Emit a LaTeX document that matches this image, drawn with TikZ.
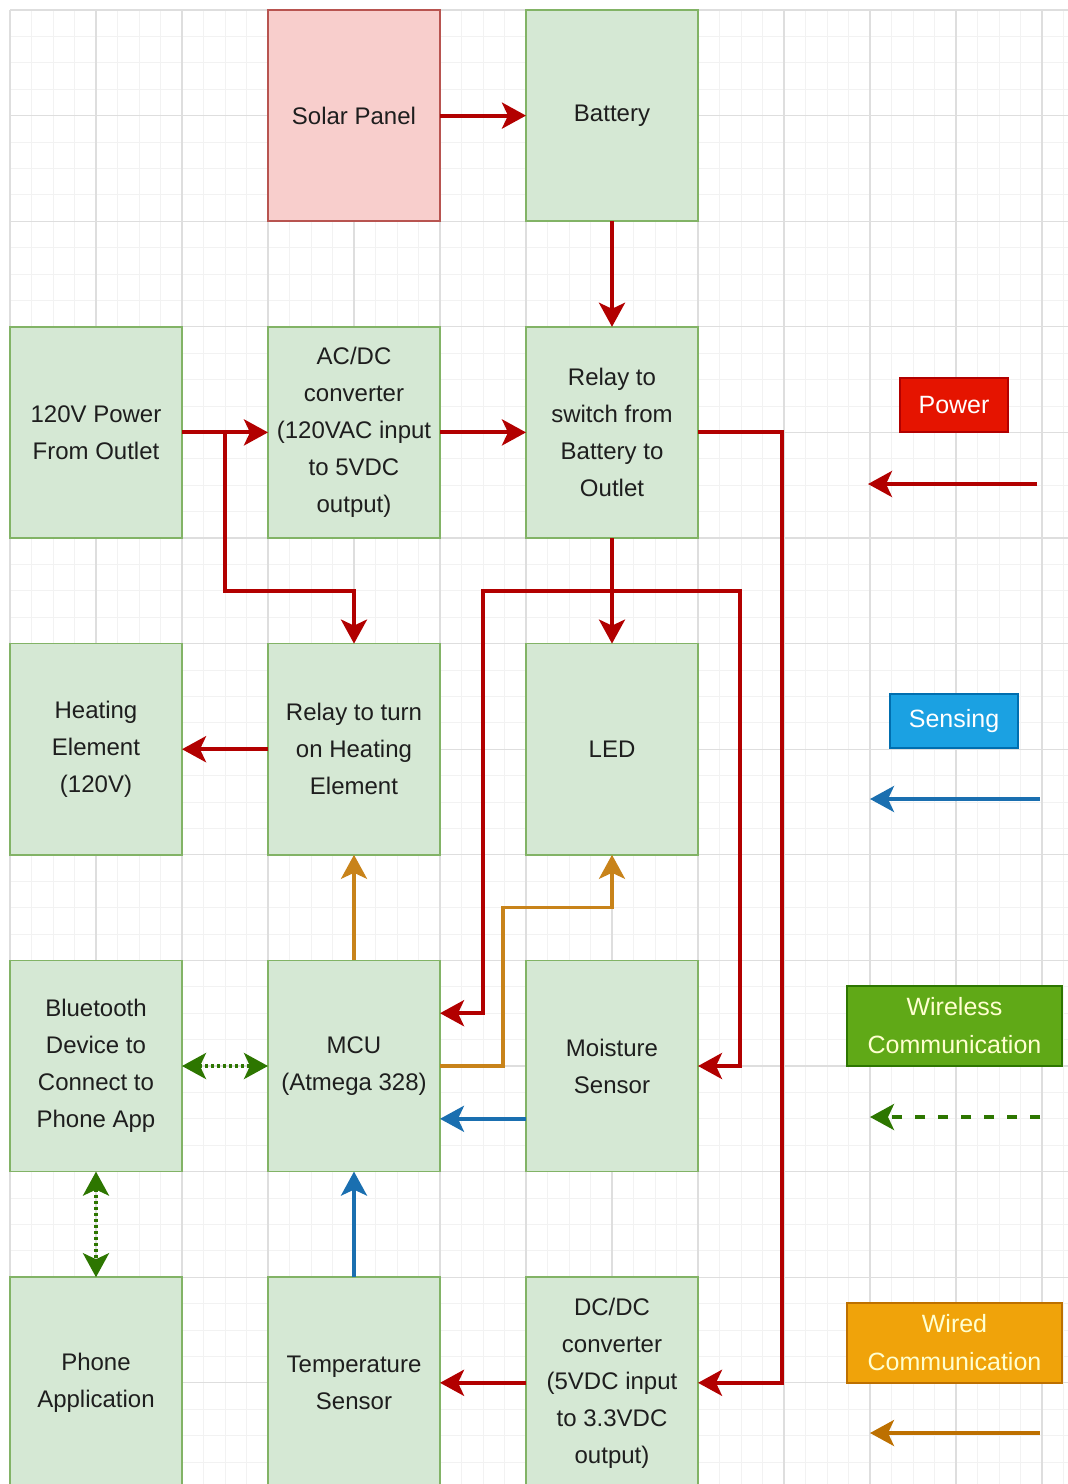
\documentclass[tikz,border=0pt]{standalone}
\usepackage{fontspec}
\setmainfont{Liberation Sans}
\usepackage{xcolor}
\usetikzlibrary{arrows.meta,positioning,calc}
\definecolor{blockfill}{HTML}{D5E8D4}
\definecolor{blockline}{HTML}{82B366}
\definecolor{solarfill}{HTML}{F8CECC}
\definecolor{solarline}{HTML}{B85450}
\definecolor{powerline}{HTML}{B20000}
\definecolor{wiredline}{HTML}{C8831A}
\definecolor{senseline}{HTML}{1A6FB0}
\definecolor{wirelessline}{HTML}{2D7600}
\definecolor{keypower}{HTML}{E51400}
\definecolor{keysense}{HTML}{1BA1E2}
\definecolor{keysenseline}{HTML}{006EAF}
\definecolor{keywireless}{HTML}{60A917}
\definecolor{keywired}{HTML}{F0A30A}
\definecolor{keywiredline}{HTML}{BD7000}
\definecolor{keytext}{HTML}{FFFFD0}
\definecolor{txtgray}{HTML}{1E1E1E}
\definecolor{gridmajor}{HTML}{DEDEDE}
\definecolor{gridminor}{HTML}{F2F2F2}
\tikzset{
  every node/.style={font=\fontsize{12}{18.5}\selectfont, text=txtgray},
  block/.style={draw=blockline, fill=blockfill, line width=0.8pt, rectangle, align=center, minimum width=86pt, minimum height=105.6pt, inner sep=0pt, outer sep=0pt},
  sourceblock/.style={block, draw=solarline, fill=solarfill},
  key/.style={draw, line width=0.8pt, rectangle, align=center, inner sep=0pt, minimum height=27pt, text=white, font=\fontsize{12.5}{19}\selectfont},
  tip/.style={-{Stealth[length=12pt, width=13pt, inset=3pt]}},
  powerarrow/.style={tip, line width=2pt, draw=powerline},
  wiredarrow/.style={tip, line width=1.7pt, draw=wiredline},
  sensearrow/.style={tip, line width=1.8pt, draw=senseline},
  wirelessarrow/.style={{Stealth[length=12pt, width=13pt, inset=3pt]}-{Stealth[length=12pt, width=13pt, inset=3pt]}, line width=1.8pt, draw=wirelessline, dash pattern=on 1.5pt off 1.5pt},
  majorgrid/.style={draw=gridmajor, line width=0.6pt},
  minorgrid/.style={draw=gridminor, line width=0.5pt}
}

\begin{document}
\begin{tikzpicture}[
    x=0.5pt, y=-0.5pt, % pixel-like units, y runs down
    node distance=52.8pt and 43pt % rows and columns
]

% 0. Page and grid
\useasboundingbox (0,0) rectangle (1068,1484);
\foreach \i in {0,...,49} \draw[minorgrid] ({10+21.5*\i},10) -- ({10+21.5*\i},1484);
\foreach \j in {0,...,55} \draw[minorgrid] (10,{10+26.4*\j}) -- (1068,{10+26.4*\j});
\foreach \i in {0,...,12} \draw[majorgrid] ({10+86*\i},10) -- ({10+86*\i},1484);
\foreach \j in {0,...,13} \draw[majorgrid] (10,{10+105.6*\j}) -- (1068,{10+105.6*\j});

% 1. Power sources
\node[sourceblock] (solar) at (354,115.6) {Solar Panel};
\node[block, right=of solar] (battery) {Battery};
\node[block, below=of solar] (acdc) {AC/DC\\converter\\(120VAC input\\to 5VDC\\output)};
\node[block, left=of acdc] (outlet) {120V Power\\From Outlet};
\node[block, right=of acdc] (relays) {Relay to\\switch from\\Battery to\\Outlet};

% 2. Actuators
\node[block, below=of acdc] (relayh) {Relay to turn\\on Heating\\Element};
\node[block, left=of relayh] (heat) {Heating\\Element\\(120V)};
\node[block, below=of relays] (led) {LED};

% 3. Controller and sensors
\node[block, below=of relayh] (mcu) {MCU\\(Atmega 328)};
\node[block, left=of mcu] (bt) {Bluetooth\\Device to\\Connect to\\Phone App};
\node[block, below=of led] (moist) {Moisture\\Sensor};
\node[block, below=of mcu] (temp) {Temperature\\Sensor};
\node[block, left=of temp] (phone) {Phone\\Application};
\node[block, below=of moist] (dcdc) {DC/DC\\converter\\(5VDC input\\to 3.3VDC\\output)};

% 4. Legend
\node[key, fill=keypower, draw=powerline, minimum width=54pt] (keypwr) at (954,405) {Power};
\node[key, fill=keysense, draw=keysenseline, minimum width=64pt] (keysns) at (954,721) {Sensing};
\node[key, fill=keywireless, draw=wirelessline, text=keytext, minimum width=107.5pt, minimum height=40pt] (keywls) at (954.5,1026) {Wireless\\Communication};
\node[key, fill=keywired, draw=keywiredline, text=keytext, minimum width=107.5pt, minimum height=40pt] (keywrd) at (954.5,1343) {Wired\\Communication};

\coordinate (pwrfrom) at (1037,484);
\coordinate (pwrto) at (868,484);
\coordinate (snsfrom) at (1040,799);
\coordinate (snsto) at (870,799);
\coordinate (wlsfrom) at (1040,1117);
\coordinate (wlsto) at (870,1117);
\coordinate (wrdfrom) at (1040,1433);
\coordinate (wrdto) at (870,1433);

\draw[powerarrow] (pwrfrom) -- (pwrto);
\draw[sensearrow] (snsfrom) -- (snsto);
\draw[tip, line width=1.8pt, draw=wirelessline, dash pattern=on 5pt off 6.5pt] (wlsfrom) -- (wlsto);
\draw[wiredarrow, draw=keywiredline] (wrdfrom) -- (wrdto);

% 5. Power connections
\draw[powerarrow] (solar) -- (battery);
\draw[powerarrow] (battery) -- (relays);
\draw[powerarrow] (outlet) -- (acdc);
\draw[powerarrow] (acdc) -- (relays);
\draw[powerarrow] (outlet.east) -- ($(outlet.east)!.5!(acdc.west)$) |- ($(acdc.south)!.5!(relayh.north)$) -- (relayh.north);
\draw[powerarrow] (relays) -- (led);
\draw[powerarrow] (relays.east) -- ++(84,0) |- (dcdc.east);

% branch from the relay to MCU and moisture sensor
\coordinate (split) at ($(relays.south)!.5!(led.north)$);
\coordinate (mcuin) at ($(mcu.north east)!.25!(mcu.south east)$);
\coordinate (lane) at ($(mcu.east)!.5!(moist.west)$);
\draw[powerarrow] (split) -| (lane |- mcuin) -- (mcuin);
\draw[powerarrow] (split) -| ($(moist.east)+(42,0)$) -- (moist.east);

\draw[powerarrow] (relayh) -- (heat);
\draw[powerarrow] (dcdc) -- (temp);

% 6. Wired communication
\draw[wiredarrow] (mcu) -- (relayh);
\draw[wiredarrow] (mcu.east) -- ++(63,0) |- ($(led.south)!.5!(moist.north)$) -- (led.south);

% 7. Sensing
\coordinate (moistout) at ($(moist.north west)!.75!(moist.south west)$);
\draw[sensearrow] (moistout) -- (moistout -| mcu.east);
\draw[sensearrow] (temp) -- (mcu);

% 8. Wireless communication
\draw[wirelessarrow] (bt) -- (mcu);
\draw[wirelessarrow] (bt) -- (phone);

\end{tikzpicture}
\end{document}
